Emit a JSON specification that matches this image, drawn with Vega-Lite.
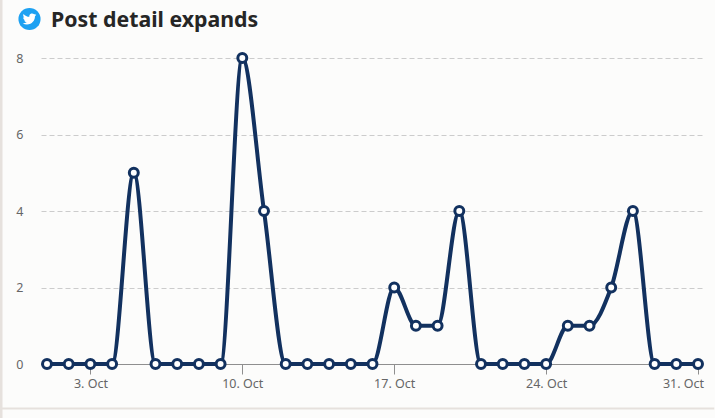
{
"$schema":"https://vega.github.io/schema/vega-lite/v6.json",
"width":661,"height":306,
"autosize":{"type":"none"},
"padding":{"left":41,"top":58,"right":13,"bottom":54},
"background":"#fcfcfb",
"view":{"stroke":null},
"title":{"text":"Post detail expands","anchor":"start","frame":"group","dx":10,"offset":-33,"font":"Noto Sans","fontSize":21.3,"fontWeight":"bold","color":"#262626"},
"datasets":{
"series":[
{"date":"2022-10-01T00:00:00Z","value":0},{"date":"2022-10-02T00:00:00Z","value":0},{"date":"2022-10-03T00:00:00Z","value":0},{"date":"2022-10-04T00:00:00Z","value":0},{"date":"2022-10-05T00:00:00Z","value":5},{"date":"2022-10-06T00:00:00Z","value":0},{"date":"2022-10-07T00:00:00Z","value":0},{"date":"2022-10-08T00:00:00Z","value":0},{"date":"2022-10-09T00:00:00Z","value":0},{"date":"2022-10-10T00:00:00Z","value":8},{"date":"2022-10-11T00:00:00Z","value":4},{"date":"2022-10-12T00:00:00Z","value":0},{"date":"2022-10-13T00:00:00Z","value":0},{"date":"2022-10-14T00:00:00Z","value":0},{"date":"2022-10-15T00:00:00Z","value":0},{"date":"2022-10-16T00:00:00Z","value":0},{"date":"2022-10-17T00:00:00Z","value":2},{"date":"2022-10-18T00:00:00Z","value":1},{"date":"2022-10-19T00:00:00Z","value":1},{"date":"2022-10-20T00:00:00Z","value":4},{"date":"2022-10-21T00:00:00Z","value":0},{"date":"2022-10-22T00:00:00Z","value":0},{"date":"2022-10-23T00:00:00Z","value":0},{"date":"2022-10-24T00:00:00Z","value":0},{"date":"2022-10-25T00:00:00Z","value":1},{"date":"2022-10-26T00:00:00Z","value":1},{"date":"2022-10-27T00:00:00Z","value":2},{"date":"2022-10-28T00:00:00Z","value":4},{"date":"2022-10-29T00:00:00Z","value":0},{"date":"2022-10-30T00:00:00Z","value":0},{"date":"2022-10-31T00:00:00Z","value":0}
],
"icon":[{"date":"2022-09-30T04:39:00Z","value":9.02}],
"leftEdge":[{"date":"2022-09-28T21:07:00Z","value":-1.41,"value2":9.52}],
"bottomEdge":[{"date":"2022-09-28T20:00:00Z","date2":"2022-10-31T18:00:00Z","value":-1.163}]
},
"layer":[
{"data":{"name":"leftEdge"},"mark":{"type":"rule","color":"#e6e1dd","strokeWidth":3,"clip":false},
 "encoding":{"x":{"field":"date","type":"temporal"},"y":{"field":"value","type":"quantitative"},"y2":{"field":"value2"}}},
{"data":{"name":"bottomEdge"},"mark":{"type":"rule","color":"#e6e1dd","strokeWidth":2,"clip":false},
 "encoding":{"x":{"field":"date","type":"temporal"},"x2":{"field":"date2"},"y":{"field":"value","type":"quantitative"}}},
{"data":{"name":"icon"},"mark":{"type":"point","filled":true,"shape":"circle","size":491,"color":"#1da1f2","opacity":1,"clip":false},
 "encoding":{"x":{"field":"date","type":"temporal"},"y":{"field":"value","type":"quantitative"}}},
{"data":{"name":"icon"},"mark":{"type":"point","filled":true,"size":1.3,"color":"#ffffff","opacity":1,"clip":false,
 "shape":"M11.953 -7.43a10 10 0 0 1 -2.825 .775 4.958 4.958 0 0 0 2.163 -2.723c-.951 .555 -2.005 .959 -3.127 1.184a4.92 4.92 0 0 0 -8.384 4.482C-4.31 -3.905 -7.933 -5.87 -10.36 -8.838a4.822 4.822 0 0 0 -.666 2.475c0 1.71 .87 3.213 2.188 4.096a4.904 4.904 0 0 1 -2.228 -.616v.06a4.923 4.923 0 0 0 3.946 4.827 4.996 4.996 0 0 1 -2.212 .085 4.936 4.936 0 0 0 4.604 3.417 9.867 9.867 0 0 1 -6.102 2.105c-.39 0 -.779 -.023 -1.17 -.067a13.995 13.995 0 0 0 7.557 2.209c9.053 0 13.998 -7.496 13.998 -13.985 0 -.21 0 -.42 -.015 -.63A9.935 9.935 0 0 0 12 -7.41z"},
 "encoding":{"x":{"field":"date","type":"temporal"},"y":{"field":"value","type":"quantitative"}}},
{"data":{"name":"series"},"mark":{"type":"line","interpolate":"monotone","color":"#12315f","strokeWidth":4,"clip":false},
 "encoding":{
  "x":{"field":"date","type":"temporal","title":null,
   "scale":{"type":"utc","domain":["2022-09-30T17:22:00Z","2022-10-31T04:25:00Z"]},
   "axis":{"values":[{"year":2022,"month":10,"date":3,"utc":true},{"year":2022,"month":10,"date":10,"utc":true},{"year":2022,"month":10,"date":17,"utc":true},{"year":2022,"month":10,"date":24,"utc":true},{"year":2022,"month":10,"date":31,"utc":true}],
    "labelExpr":"utcFormat(datum.value,'%-d. %b')","grid":false,"domainColor":"#8f8f8f","domainWidth":1,"tickColor":"#8f8f8f","tickSize":10,"labelColor":"#666666","labelFont":"Noto Sans","labelFontSize":12.5,"labelPadding":3,"labelFlush":false,
    "labelOffset":{"condition":{"test":"datum.value > 1667100000000","value":-15},"value":0}}},
  "y":{"field":"value","type":"quantitative","title":null,
   "scale":{"domain":[0,8],"nice":false},
   "axis":{"values":[0,2,4,6,8],"domain":false,"ticks":false,"grid":true,"gridColor":"#cccccc","gridDash":[5,3],"gridWidth":1,"labelColor":"#666666","labelFont":"Noto Sans","labelFontSize":12.5,"labelPadding":18}}
 }},
{"data":{"name":"series"},"mark":{"type":"point","filled":true,"fill":"#ffffff","stroke":"#12315f","strokeWidth":3,"size":80,"opacity":1,"clip":false},
 "encoding":{"x":{"field":"date","type":"temporal"},"y":{"field":"value","type":"quantitative"}}}
]
}
